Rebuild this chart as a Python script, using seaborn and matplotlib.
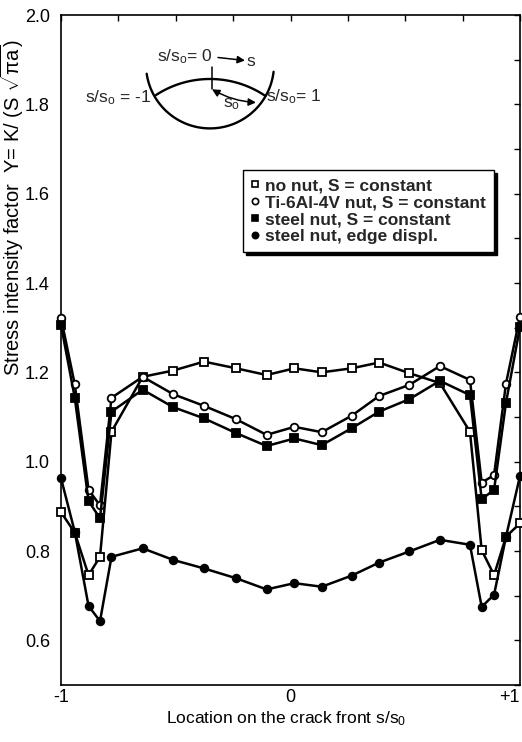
import numpy as np
import matplotlib
matplotlib.use("Agg")
import matplotlib.pyplot as plt
import seaborn as sns
from matplotlib.lines import Line2D
from matplotlib.ticker import MultipleLocator, FormatStrFormatter

# Location on the crack front s/s0 (same for all curves)
s_pos = [-1.0, -0.94, -0.88, -0.83, -0.78, -0.644, -0.511, -0.377, -0.237, -0.104,
         0.017, 0.136, 0.267, 0.386, 0.518, 0.651, 0.782, 0.833, 0.887, 0.939, 1.0]

# Y = K / (S sqrt(pi a))
no_nut = [0.887, 0.841, 0.746, 0.787, 1.067, 1.190, 1.204, 1.224, 1.209, 1.194,
          1.209, 1.200, 1.209, 1.222, 1.198, 1.176, 1.067, 0.802, 0.746, 0.832, 0.862]
ti_nut = [1.322, 1.173, 0.937, 0.902, 1.143, 1.190, 1.151, 1.125, 1.095, 1.060,
          1.078, 1.066, 1.103, 1.147, 1.172, 1.214, 1.183, 0.953, 0.970, 1.175, 1.325]
steel_nut = [1.306, 1.143, 0.912, 0.873, 1.112, 1.161, 1.122, 1.097, 1.064, 1.035,
             1.052, 1.037, 1.075, 1.112, 1.140, 1.181, 1.149, 0.916, 0.937, 1.132, 1.302]
steel_edge = [0.963, 0.843, 0.677, 0.643, 0.787, 0.806, 0.780, 0.761, 0.739, 0.714,
              0.728, 0.720, 0.745, 0.774, 0.799, 0.825, 0.814, 0.675, 0.702, 0.832, 0.968]

labels = ["no nut, S = constant", "Ti-6Al-4V nut, S = constant",
          "steel nut, S = constant", "steel nut, edge displ."]
markers = ["s", "o", "s", "o"]
faces = ["white", "white", "black", "black"]
x_ticklabels = ["-1", "", "", "", "0", "", "", "", "+1"]

sns.set_theme(style="white")
plt.rcParams["font.family"] = ["Liberation Sans", "DejaVu Sans"]
plt.rcParams["mathtext.fontset"] = "custom"
plt.rcParams["mathtext.rm"] = "Liberation Sans"
plt.rcParams["mathtext.it"] = "Liberation Sans"

W, H = 522, 742
fig = plt.figure(figsize=(W / 100, H / 100), dpi=100)
ax = fig.add_axes([61 / W, 1 - 685 / H, 459 / W, 670 / H])

for lab, vals, mk, fc in zip(labels, [no_nut, ti_nut, steel_nut, steel_edge], markers, faces):
    sns.lineplot(x=s_pos, y=vals, ax=ax, color="black", lw=1.8, marker=mk,
                 markersize=5.5, markerfacecolor=fc, markeredgecolor="black",
                 markeredgewidth=1.3, sort=False, clip_on=False, zorder=3)

ax.set_xlim(-1, 1)
ax.set_ylim(0.5, 2.0)
ax.set_xticks(np.arange(-1, 1.01, 0.25))
ax.set_xticklabels(x_ticklabels)
ax.get_xticklabels()[-1].set_ha("right")
ax.set_yticks([0.6, 0.8, 1.0, 1.2, 1.4, 1.6, 1.8, 2.0])
ax.yaxis.set_minor_locator(MultipleLocator(0.1))
ax.yaxis.set_major_formatter(FormatStrFormatter("%.1f"))
ax.tick_params(axis="both", which="both", direction="in", length=4.5, width=1,
               color="black", top=True, right=True, labelsize=13, labelcolor="black")
ax.tick_params(axis="x", pad=3)
ax.tick_params(axis="y", pad=8)
for sp in ax.spines.values():
    sp.set_color("black")
    sp.set_linewidth(1.2)

ax.set_xlabel("Location on the crack front s/s$_0$", fontsize=12.5, color="black",
              va="top")
ax.xaxis.set_label_coords(0.49, -0.036)
ax.set_ylabel(r"Stress intensity factor  Y= K/ (S $\sqrt{\mathregular{\pi a}}$)",
              fontsize=14.5, color="black")
ax.yaxis.set_label_coords(-0.076, 0.713)

handles = [Line2D([], [], ls="none", marker=mk, markersize=4.5, markerfacecolor=fc,
                  markeredgecolor="black", markeredgewidth=1.2)
           for mk, fc in zip(markers, faces)]
leg = ax.legend(handles, labels, loc="upper left", bbox_to_anchor=(0.396, 0.768),
                frameon=True, fancybox=False, edgecolor="black", framealpha=1,
                shadow={"color": "black", "alpha": 1}, borderpad=0.45,
                handlelength=0.5, handletextpad=0.35, labelspacing=0.1,
                borderaxespad=0,
                prop={"family": ["Liberation Sans", "DejaVu Sans"], "weight": "bold", "size": 12.5})
leg.get_frame().set_linewidth(1.0)

# crack sketch, drawn in figure pixel coordinates
sk = fig.add_axes([0, 0, 1, 1], facecolor="none")
sk.set_xlim(0, W)
sk.set_ylim(H, 0)
sk.axis("off")

t = np.radians(np.linspace(6.6, 171.6, 100))
sk.plot(210 + 64 * np.cos(t), 64.4 + 64 * np.sin(t), color="black", lw=1.7)
t = np.radians(np.linspace(-123, -56, 100))
sk.plot(210 + 99 * np.cos(t), 178 + 99 * np.sin(t), color="black", lw=1.7)
sk.plot([211.7, 211.7], [67, 89.3], color="black", lw=1.1)
sk.annotate("", xy=(212, 89.3), xytext=(256, 102.5),
            arrowprops=dict(arrowstyle="<|-|>", color="black", lw=1.1,
                            mutation_scale=11, shrinkA=0, shrinkB=0,
                            connectionstyle="arc3,rad=-0.12"))
sk.annotate("", xy=(245, 60.5), xytext=(218, 57.5),
            arrowprops=dict(arrowstyle="-|>", color="black", lw=1.1,
                            mutation_scale=11, shrinkA=0, shrinkB=0))

fam = ["Liberation Sans", "DejaVu Sans"]
sk.text(157, 57, "s/s$_\\mathregular{o}$= 0", fontsize=12.5, family=fam, va="center", ha="left")
sk.text(246, 62, "s", fontsize=12.5, family=fam, va="center", ha="left")
sk.text(85, 98, "s/s$_\\mathregular{o}$ = -1", fontsize=12.5, family=fam, va="center", ha="left")
sk.text(266, 97, "s/s$_\\mathregular{o}$= 1", fontsize=12.5, family=fam, va="center", ha="left")
sk.text(223, 104, "s$_\\mathregular{o}$", fontsize=12.5, family=fam, va="center", ha="left")

fig.savefig("out.png", dpi=100)
